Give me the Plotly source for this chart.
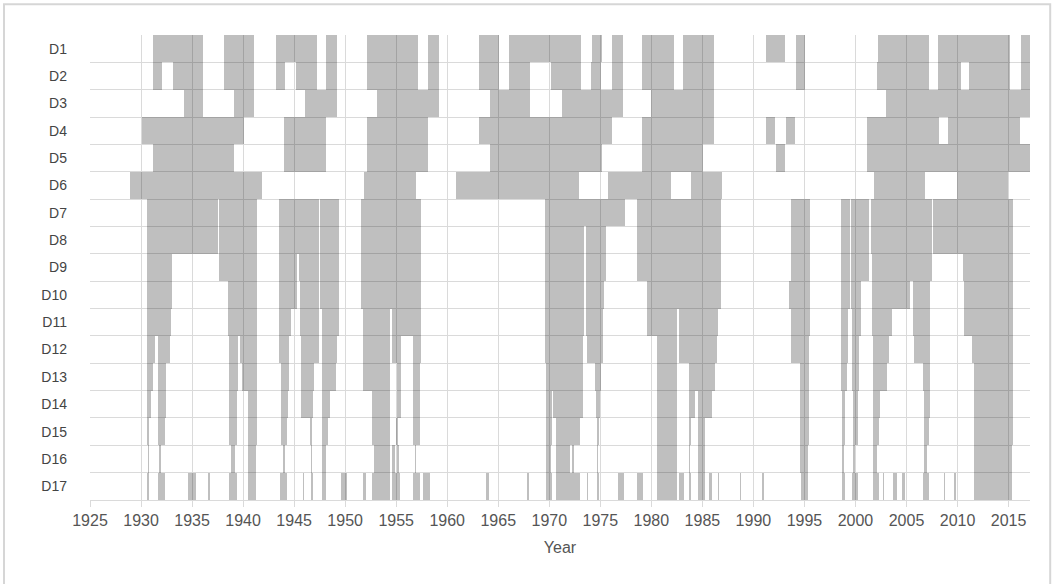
import plotly.graph_objects as go

# ---- data: active periods (start year, end year) for each row ----
row_labels = ["D1", "D2", "D3", "D4", "D5", "D6", "D7", "D8", "D9",
              "D10", "D11", "D12", "D13", "D14", "D15", "D16", "D17"]

D1 = [(1931.15, 1936.1), (1938.1, 1941.1), (1943.2, 1947.2), (1948.1, 1949.2), (1952.1, 1957.1),
      (1958.1, 1959.15), (1963.1, 1965.1), (1966.1, 1973.1), (1974.2, 1975.2), (1976.1, 1977.2),
      (1979.1, 1982.2), (1983.1, 1986.1), (1991.2, 1993.1), (1994.2, 1995.1), (2002.2, 2007.2),
      (2008.1, 2015.1), (2016.2, 2017.1)]
D2 = [(1931.15, 1932.1), (1933.1, 1936.1), (1938.1, 1941.1), (1943.2, 1944.1), (1945.2, 1947.2),
      (1948.1, 1949.2), (1952.1, 1957.1), (1958.1, 1959.15), (1963.1, 1965.1), (1966.1, 1968.1),
      (1970.2, 1973.1), (1974.1, 1975.1), (1976.1, 1977.2), (1979.1, 1982.2), (1983.1, 1986.1),
      (1994.2, 1995.1), (2002.1, 2007.2), (2008.1, 2010.3), (2011.1, 2015.1), (2016.2, 2017.1)]
D3 = [(1934.2, 1936.1), (1939.15, 1941.1), (1946.1, 1949.2), (1953.1, 1959.15), (1964.15, 1968.1),
      (1971.2, 1977.2), (1980.0, 1986.1), (2003.0, 2017.1)]
D4 = [(1930.1, 1940.1), (1944.05, 1948.1), (1952.1, 1958.1), (1963.1, 1976.1), (1979.1, 1986.1),
      (1991.2, 1992.1), (1993.2, 1994.1), (2001.1, 2008.2), (2009.1, 2016.1)]
D5 = [(1931.15, 1939.15), (1944.05, 1948.1), (1952.1, 1958.1), (1964.15, 1975.2), (1979.1, 1985.1),
      (1992.2, 1993.1), (2001.1, 2017.1)]
D6 = [(1928.9, 1941.9), (1951.8, 1956.9), (1960.9, 1972.9), (1975.8, 1981.9), (1983.9, 1986.9),
      (2001.8, 2006.8), (2009.9, 2014.95)]
D7 = [(1930.6, 1937.55), (1937.65, 1941.37), (1943.56, 1947.4), (1947.55, 1949.42), (1951.57, 1957.45),
      (1969.6, 1977.45), (1978.6, 1986.86), (1993.7, 1995.55), (1998.6, 1999.45), (1999.57, 2001.3),
      (2001.55, 2007.45), (2007.6, 2015.45)]
D8 = [(1930.6, 1937.55), (1937.65, 1941.37), (1943.56, 1947.4), (1947.55, 1949.42), (1951.57, 1957.45),
      (1969.6, 1973.4), (1973.6, 1975.55), (1978.6, 1986.86), (1993.7, 1995.55), (1998.6, 1999.45),
      (1999.57, 2001.3), (2001.55, 2007.45), (2007.6, 2015.45)]
D9 = [(1930.62, 1933.07), (1937.65, 1941.37), (1943.56, 1945.26), (1945.52, 1947.4), (1947.55, 1949.42),
      (1951.57, 1957.45), (1969.6, 1973.4), (1973.6, 1975.55), (1978.6, 1986.86), (1993.7, 1995.55),
      (1998.6, 1999.45), (1999.57, 2001.3), (2001.57, 2007.45), (2010.52, 2015.42)]
D10 = [(1930.62, 1933.0), (1938.56, 1941.37), (1943.56, 1945.26), (1945.58, 1947.4), (1947.55, 1949.42),
       (1951.57, 1957.45), (1969.6, 1973.4), (1973.6, 1975.4), (1979.6, 1986.86), (1993.5, 1995.55),
       (1998.6, 1999.45), (1999.57, 2000.5), (2001.57, 2005.33), (2005.65, 2007.35), (2010.62, 2015.4)]
D11 = [(1930.62, 1932.94), (1938.56, 1941.37), (1943.56, 1944.67), (1945.58, 1947.4), (1947.7, 1949.35),
       (1951.7, 1954.41), (1954.58, 1957.45), (1969.6, 1973.4), (1973.6, 1975.3), (1979.6, 1982.5),
       (1982.68, 1986.54), (1993.7, 1995.55), (1998.6, 1999.28), (1999.67, 2000.5), (2001.57, 2003.53),
       (2005.65, 2007.3), (2010.62, 2015.4)]
D12 = [(1930.62, 1931.37), (1931.63, 1932.84), (1938.66, 1939.54), (1939.74, 1941.37), (1943.56, 1944.53),
       (1945.65, 1947.4), (1947.7, 1949.18), (1951.7, 1954.41), (1954.58, 1955.45), (1956.6, 1957.45),
       (1969.6, 1973.3), (1973.7, 1975.3), (1980.56, 1982.5), (1982.68, 1986.44), (1993.7, 1995.4),
       (1998.6, 1999.28), (1999.7, 2000.33), (2001.73, 2003.27), (2005.72, 2007.3), (2011.44, 2015.4)]
D13 = [(1930.62, 1931.21), (1931.63, 1932.45), (1938.66, 1939.54), (1939.87, 1941.37), (1943.7, 1944.53),
       (1945.65, 1946.9), (1947.7, 1949.1), (1951.7, 1954.41), (1955.06, 1955.45), (1956.6, 1957.35),
       (1969.65, 1973.3), (1974.5, 1975.06), (1980.56, 1982.5), (1983.66, 1986.2), (1994.6, 1995.4),
       (1998.6, 1999.18), (1999.67, 2000.33), (2001.73, 2003.04), (2006.63, 2007.35), (2011.6, 2015.4)]
D14 = [(1930.62, 1930.98), (1931.63, 1932.45), (1938.66, 1939.38), (1940.52, 1941.37), (1943.73, 1944.38),
       (1945.7, 1946.8), (1947.7, 1948.55), (1952.6, 1954.41), (1955.06, 1955.45), (1956.6, 1957.35),
       (1969.65, 1970.26), (1970.4, 1973.3), (1974.6, 1974.93), (1980.56, 1982.5), (1983.66, 1984.25),
       (1984.57, 1985.95), (1994.6, 1995.4), (1998.69, 1998.95), (1999.77, 2000.26), (2001.73, 2002.39),
       (2006.7, 2007.3), (2011.6, 2015.4)]
D15 = [(1930.62, 1930.82), (1931.63, 1932.35), (1938.66, 1939.38), (1940.52, 1941.37), (1943.73, 1944.28),
       (1946.57, 1946.73), (1947.7, 1948.3), (1952.6, 1954.41), (1955.0, 1955.16), (1956.6, 1957.35),
       (1969.65, 1970.3), (1970.65, 1973.04), (1974.7, 1974.88), (1980.56, 1982.5), (1983.7, 1983.85),
       (1984.57, 1985.3), (1994.6, 1995.4), (1998.69, 1998.95), (1999.77, 2000.26), (2001.73, 2002.29),
       (2006.76, 2007.19), (2011.6, 2015.4)]
D16 = [(1930.65, 1930.8), (1931.76, 1931.96), (1938.79, 1939.22), (1940.52, 1941.31), (1943.89, 1944.12),
       (1946.63, 1946.73), (1947.7, 1948.14), (1952.78, 1954.41), (1954.58, 1954.9), (1955.07, 1955.3),
       (1956.86, 1956.95), (1969.65, 1970.2), (1970.65, 1972.0), (1972.25, 1972.45), (1974.7, 1974.8),
       (1980.56, 1982.5), (1983.7, 1983.82), (1984.57, 1985.24), (1994.6, 1995.35), (1998.69, 1998.92),
       (1999.77, 2000.0), (2001.73, 2002.06), (2006.76, 2007.0), (2011.6, 2015.36)]
D17 = [(1930.6, 1930.8), (1931.63, 1932.35), (1934.64, 1935.36), (1936.6, 1936.72), (1938.66, 1939.38),
       (1940.52, 1941.31), (1943.63, 1944.28), (1945.82, 1946.0), (1946.63, 1946.8), (1947.7, 1948.17),
       (1949.61, 1950.16), (1951.7, 1952.03), (1952.61, 1954.41), (1954.58, 1955.4), (1956.6, 1957.35),
       (1957.58, 1958.33), (1963.8, 1964.1), (1967.82, 1967.97), (1969.65, 1970.3), (1970.65, 1973.04),
       (1973.69, 1973.79), (1974.67, 1974.83), (1976.7, 1977.3), (1978.6, 1979.2), (1980.56, 1982.5),
       (1982.68, 1983.17), (1983.66, 1983.9), (1984.57, 1985.24), (1985.6, 1985.9), (1986.5, 1986.6),
       (1988.7, 1988.8), (1990.8, 1991.05), (1994.65, 1995.3), (1998.69, 1998.95), (1999.67, 2000.26),
       (2001.73, 2002.29), (2002.68, 2002.84), (2003.69, 2004.02), (2004.57, 2004.9), (2006.63, 2007.19),
       (2008.66, 2008.82), (2009.7, 2009.84), (2011.6, 2015.36)]

rows = [D1, D2, D3, D4, D5, D6, D7, D8, D9, D10, D11, D12, D13, D14, D15, D16, D17]

x_start, x_end = 1925, 2017.1
x_ticks = list(range(1925, 2016, 5))

# ---- build bars ----
ys, bases, lengths = [], [], []
for i, intervals in enumerate(rows):
    for s, e in intervals:
        ys.append(i + 1)
        bases.append(s)
        lengths.append(e - s)

GRID = "#dadada"
TXT = "#444444"

fig = go.Figure()
fig.add_trace(go.Bar(
    orientation="h", y=ys, x=lengths, base=bases, width=1.0,
    marker=dict(color="rgba(0,0,0,0.25)", line=dict(width=0)),
    hoverinfo="skip", showlegend=False,
))

fig.update_layout(
    width=1055, height=584,
    margin=dict(l=90, r=25, t=35, b=84),
    paper_bgcolor="white", plot_bgcolor="white",
    barmode="overlay", bargap=0,
    font=dict(family="Liberation Sans, Arial, sans-serif", color=TXT),
    shapes=[dict(type="rect", xref="paper", yref="paper",
                 x0=-0.0915, x1=1.0215, y0=-0.25, y1=1.066,
                 line=dict(color="#d6d6d6", width=2), fillcolor="rgba(0,0,0,0)",
                 layer="below")],
)

fig.update_xaxes(
    range=[x_start, x_end], tickvals=x_ticks, ticktext=[str(t) for t in x_ticks],
    showgrid=True, gridcolor=GRID, gridwidth=1,
    ticks="outside", ticklen=6, tickcolor=GRID,
    showline=True, linecolor=GRID, zeroline=False,
    tickfont=dict(size=16, color="#555555"),
    title=dict(text="Year", font=dict(size=16, color="#555555"), standoff=13),
)
fig.update_yaxes(
    range=[17.5, 0.5], tickvals=list(range(1, 18)), ticktext=row_labels,
    showgrid=False, zeroline=False, showline=False, ticks="",
    ticklabelstandoff=22,
    minor=dict(tick0=0.5, dtick=1, showgrid=True, gridcolor=GRID, gridwidth=1, ticks=""),
    tickfont=dict(size=14, color=TXT),
)

fig.write_html("out.html")
